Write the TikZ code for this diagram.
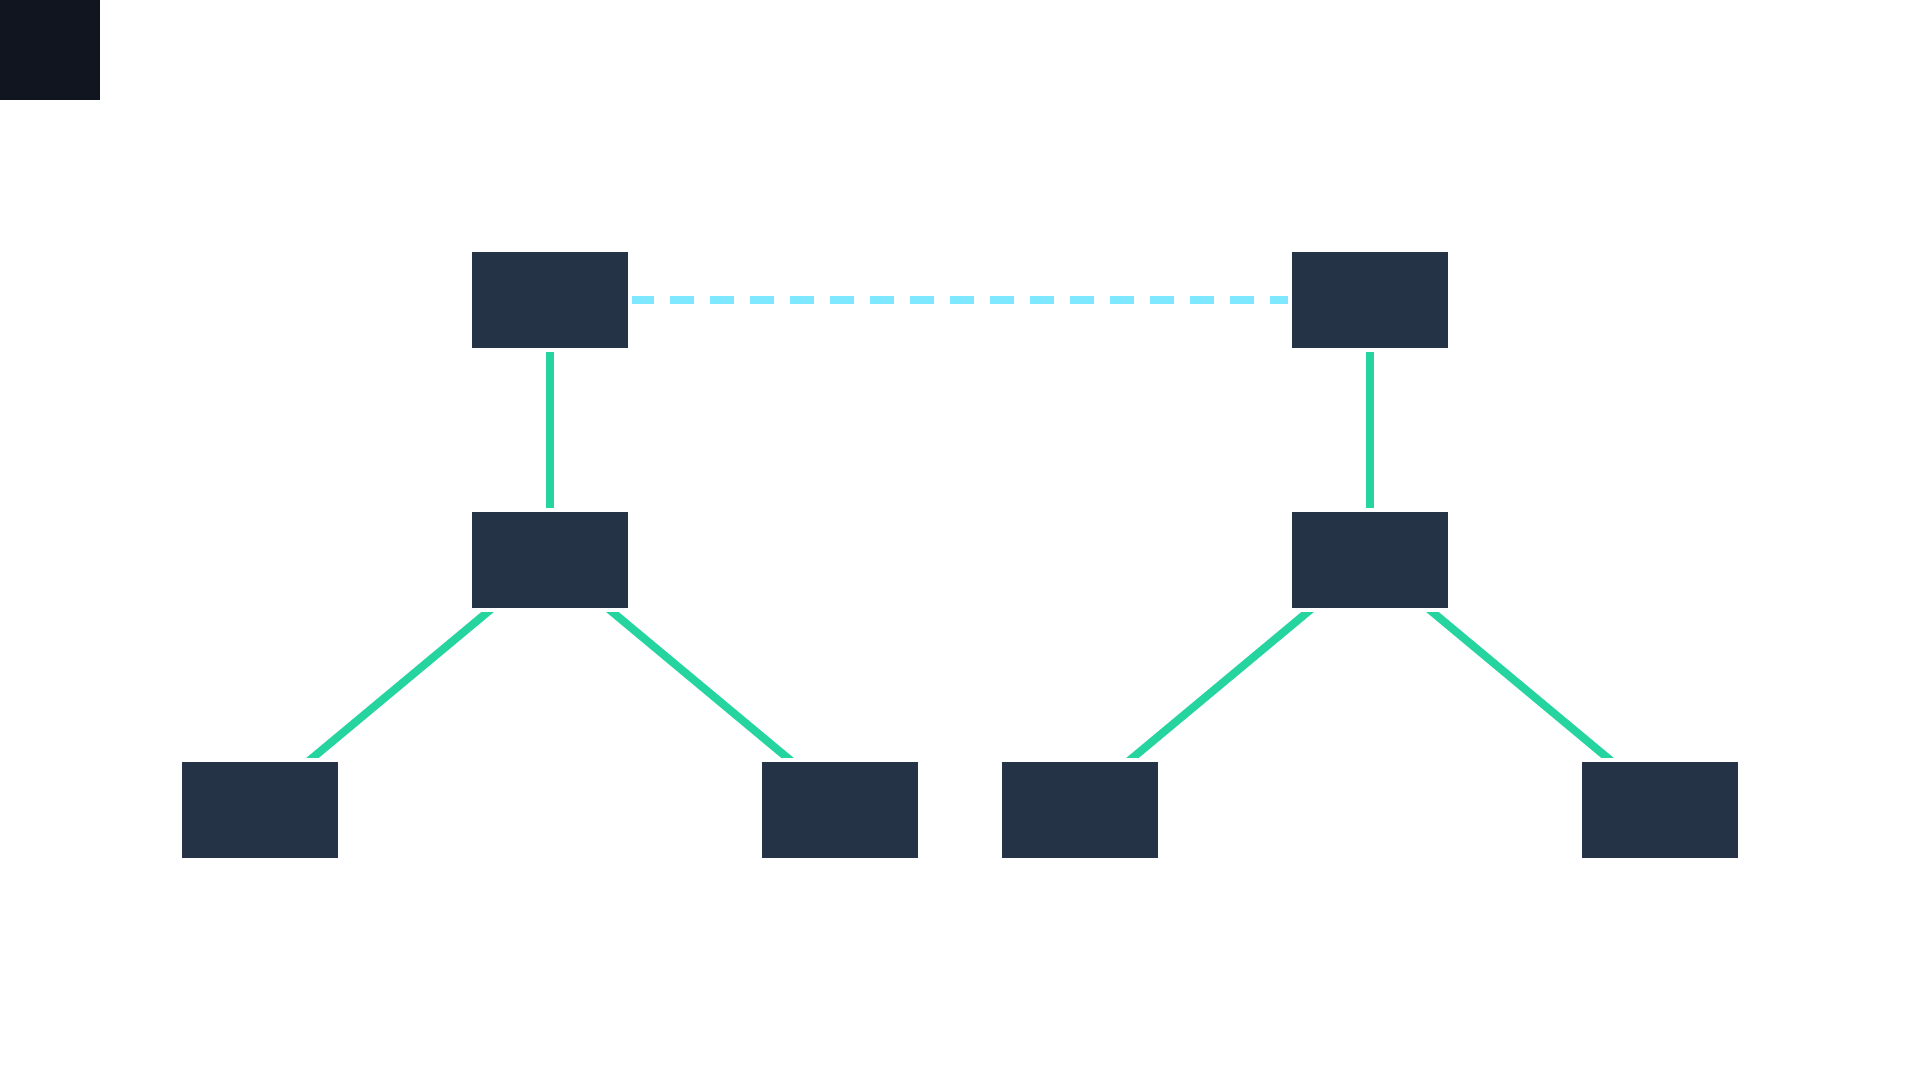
\documentclass[tikz,border=0pt]{standalone}
\usetikzlibrary{calc,backgrounds}
\definecolor{cornerfill}{RGB}{17,21,31}
\definecolor{nodefill}{RGB}{36,51,69}
\definecolor{linkgreen}{RGB}{38,212,160}
\definecolor{linkcyan}{RGB}{125,232,255}
\tikzset{
  box/.style={draw=white, line width=4pt, fill=nodefill, minimum width=160pt, minimum height=100pt, inner sep=0pt, outer sep=0pt},
  corner/.style={fill=cornerfill, minimum width=100pt, minimum height=100pt, inner sep=0pt, outer sep=0pt},
  tree/.style={draw=linkgreen, line width=8pt},
  peer/.style={draw=linkcyan, line width=8pt, dash pattern=on 24pt off 16pt}
}
\begin{document}
\begin{tikzpicture}[x=1pt,y=-1pt]
\useasboundingbox (0,0) rectangle (1920,1080);
\node[corner] (corner) at (50,50) {};
\node[box] (A) at (550,300) {};
\node[box] (B) at (550,560) {};
\node[box] (C) at (260,810) {};
\node[box] (D) at (840,810) {};
\node[box] (E) at (1370,300) {};
\node[box] (F) at (1370,560) {};
\node[box] (G) at (1080,810) {};
\node[box] (H) at (1660,810) {};
\begin{pgfonlayer}{background}
\fill[white] (0,0) rectangle (1920,1080);
\draw[peer] (A.center) -- (E.center);
\draw[tree] (A.center) -- (B.center);
\draw[tree] (E.center) -- (F.center);
\draw[tree] (B.center) -- ($(C.center)+(-10,0)$);
\draw[tree] (B.center) -- ($(D.center)+(10,0)$);
\draw[tree] (F.center) -- ($(G.center)+(-10,0)$);
\draw[tree] (F.center) -- ($(H.center)+(10,0)$);
\end{pgfonlayer}
\end{tikzpicture}
\end{document}
